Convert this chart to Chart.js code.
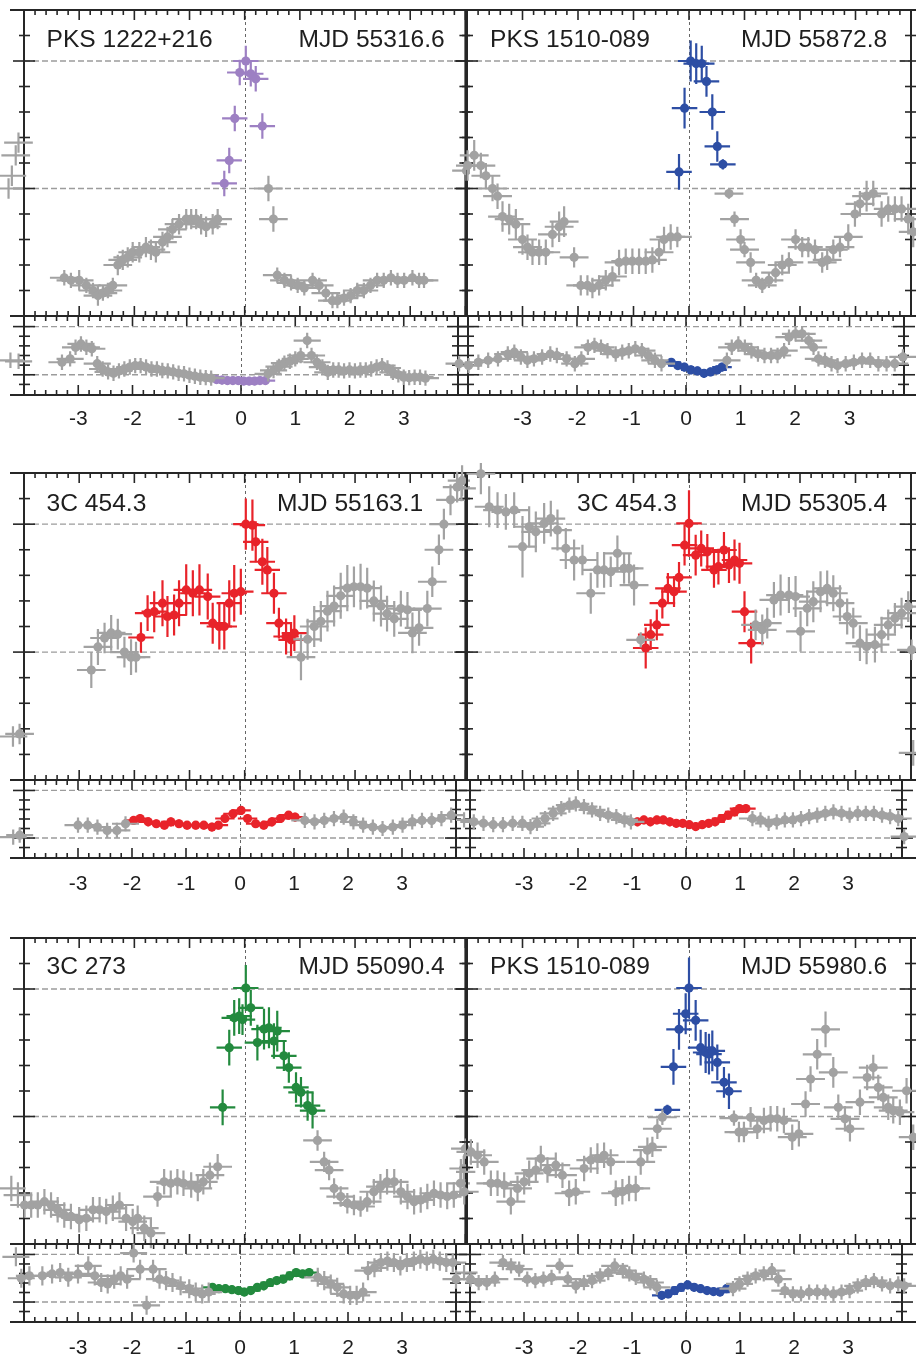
<!DOCTYPE html>
<html>
<head>
<meta charset="utf-8">
<script src="https://cdn.jsdelivr.net/npm/chart.js@4.4.1/dist/chart.umd.min.js"></script>
<style>
  html, body { margin: 0; padding: 0; background: #fff; }
  body { width: 916px; height: 1356px; position: relative; overflow: hidden; font-family: "Liberation Sans", Arial, sans-serif; }
  canvas { position: absolute; }
  .lbl { position: absolute; font-size: 24.6px; line-height: 24px; color: #1e1e1e; white-space: nowrap; }
</style>
</head>
<body>
<script>
// main panels: [x, y, yErr]; sub panels: [x, y]
// PKS 1222+216, MJD 55316.6
const p1Gray = [[-4.28,0.50,0.04],[-4.22,0.55,0.04],[-4.15,0.63,0.04],[-4.1,0.68,0.04],
  [-3.27,0.15,0.03],[-3.15,0.14,0.03],[-3.0,0.14,0.04],[-2.87,0.12,0.03],[-2.75,0.10,0.03],[-2.66,0.08,0.04],[-2.57,0.09,0.03],[-2.48,0.10,0.03],[-2.39,0.12,0.03],[-2.30,0.20,0.04],[-2.21,0.22,0.04],[-2.12,0.23,0.04],[-2.03,0.25,0.04],[-1.91,0.25,0.04],[-1.79,0.27,0.04],[-1.70,0.26,0.04],[-1.61,0.25,0.04],[-1.49,0.29,0.04],[-1.40,0.31,0.04],[-1.31,0.34,0.04],[-1.19,0.36,0.04],[-1.06,0.38,0.04],[-0.97,0.38,0.04],[-0.88,0.38,0.04],[-0.79,0.36,0.04],[-0.70,0.35,0.04],[-0.58,0.36,0.04],[-0.49,0.38,0.04],
  [0.43,0.50,0.05],[0.52,0.38,0.05],
  [0.59,0.16,0.03],[0.72,0.14,0.03],[0.84,0.13,0.03],[0.96,0.12,0.03],[1.08,0.11,0.03],[1.23,0.14,0.03],[1.35,0.12,0.03],[1.47,0.09,0.03],[1.59,0.06,0.03],[1.68,0.06,0.03],[1.80,0.07,0.03],[1.92,0.08,0.03],[2.04,0.10,0.03],[2.16,0.10,0.03],[2.28,0.12,0.03],[2.40,0.14,0.03],[2.52,0.14,0.03],[2.65,0.15,0.03],[2.77,0.14,0.03],[2.89,0.14,0.03],[3.04,0.15,0.03],[3.16,0.14,0.03],[3.25,0.14,0.03],
  [4.02,0.57,0.04]];
const p1Flare = [[0.02,1.0,0.06],[-0.09,0.955,0.05],[0.11,0.95,0.05],[0.20,0.93,0.05],[-0.18,0.775,0.05],[0.32,0.745,0.05],[-0.28,0.61,0.05],[-0.37,0.52,0.05]];
const p1SubGray = [[-4.25,0.30],[-4.1,0.28],[-3.3,0.26],[-3.15,0.33],[-3.05,0.57],[-2.95,0.64],[-2.85,0.57],[-2.75,0.54],[-2.65,0.23],[-2.55,0.12],[-2.45,0.06],[-2.35,0.03],[-2.25,0.08],[-2.15,0.12],[-2.05,0.16],[-1.95,0.19],[-1.85,0.19],[-1.75,0.16],[-1.65,0.12],[-1.55,0.12],[-1.45,0.09],[-1.35,0.08],[-1.25,0.06],[-1.15,0.03],[-1.05,0.02],[-0.95,-0.01],[-0.85,-0.03],[-0.75,-0.05],[-0.65,-0.06],[-0.55,-0.07],
  [0.5,0.02],[0.6,0.09],[0.7,0.17],[0.8,0.24],[0.9,0.28],[1.0,0.33],[1.1,0.40],[1.22,0.71],[1.3,0.40],[1.4,0.26],[1.5,0.16],[1.6,0.05],[1.7,0.10],[1.8,0.10],[1.9,0.08],[2.0,0.10],[2.1,0.08],[2.2,0.10],[2.3,0.10],[2.4,0.12],[2.5,0.16],[2.6,0.19],[2.7,0.14],[2.8,0.05],[2.9,0.0],[3.0,-0.05],[3.1,-0.06],[3.2,-0.05],[3.3,-0.05],[3.4,-0.07],[4.02,0.23]];
const p1SubFlare = [[-0.45,-0.10],[-0.35,-0.11],[-0.25,-0.12],[-0.15,-0.12],[-0.05,-0.12],[0.05,-0.13],[0.15,-0.13],[0.25,-0.13],[0.35,-0.12],[0.45,-0.12]];

// PKS 1510-089, MJD 55872.8
const p2Gray = [[-3.99,0.59,0.06],[-3.87,0.63,0.06],[-3.75,0.59,0.05],[-3.66,0.55,0.05],[-3.54,0.50,0.05],[-3.45,0.47,0.05],[-3.36,0.39,0.06],[-3.24,0.38,0.06],[-3.12,0.36,0.06],[-3.0,0.30,0.06],[-2.91,0.27,0.05],[-2.82,0.25,0.05],[-2.70,0.25,0.05],[-2.58,0.25,0.05],[-2.46,0.32,0.05],[-2.34,0.35,0.06],[-2.25,0.37,0.06],[-2.07,0.23,0.04],[-1.95,0.12,0.04],[-1.83,0.12,0.04],[-1.74,0.11,0.04],[-1.62,0.12,0.04],[-1.50,0.14,0.04],[-1.38,0.155,0.04],[-1.26,0.21,0.05],[-1.14,0.215,0.05],[-1.02,0.215,0.05],[-0.90,0.215,0.05],[-0.78,0.215,0.05],[-0.66,0.22,0.05],[-0.54,0.25,0.05],[-0.45,0.30,0.05],[-0.33,0.31,0.05],[-0.21,0.31,0.04],
  [0.72,0.48,0.02],[0.82,0.38,0.03],[0.93,0.30,0.04],[1.0,0.26,0.03],[1.11,0.21,0.04],[1.21,0.14,0.03],[1.32,0.12,0.03],[1.44,0.14,0.03],[1.56,0.17,0.04],[1.68,0.20,0.04],[1.80,0.21,0.04],[1.92,0.30,0.04],[2.04,0.27,0.04],[2.15,0.27,0.04],[2.27,0.26,0.04],[2.40,0.21,0.04],[2.49,0.22,0.04],[2.60,0.26,0.04],[2.72,0.27,0.04],[2.87,0.31,0.05],[2.99,0.40,0.05],[3.08,0.44,0.05],[3.20,0.47,0.06],[3.32,0.48,0.05],[3.47,0.40,0.05],[3.59,0.42,0.05],[3.71,0.42,0.05],[3.83,0.42,0.05],[3.95,0.38,0.06],[4.04,0.33,0.06]];
const p2Flare = [[0.03,1.0,0.08],[0.13,0.99,0.08],[0.23,0.99,0.07],[0.315,0.92,0.06],[-0.08,0.815,0.08],[0.42,0.80,0.07],[0.51,0.665,0.06],[0.61,0.595,0.02],[-0.18,0.565,0.07]];
const p2SubGray = [[-3.99,0.19],[-3.81,0.26],[-3.63,0.30],[-3.45,0.33],[-3.27,0.43],[-3.15,0.47],[-3.03,0.37],[-2.91,0.30],[-2.79,0.33],[-2.64,0.37],[-2.49,0.43],[-2.37,0.40],[-2.19,0.33],[-2.04,0.23],[-1.92,0.33],[-1.80,0.57],[-1.68,0.61],[-1.56,0.57],[-1.44,0.50],[-1.29,0.43],[-1.17,0.47],[-1.05,0.50],[-0.93,0.54],[-0.81,0.50],[-0.69,0.40],[-0.57,0.30],[-0.45,0.23],
  [0.75,0.30],[0.84,0.57],[0.96,0.64],[1.08,0.57],[1.20,0.50],[1.32,0.43],[1.44,0.40],[1.56,0.40],[1.68,0.40],[1.80,0.50],[1.89,0.78],[2.01,0.85],[2.13,0.85],[2.25,0.71],[2.34,0.57],[2.43,0.33],[2.55,0.30],[2.67,0.23],[2.78,0.19],[2.93,0.23],[3.08,0.26],[3.23,0.30],[3.38,0.30],[3.53,0.23],[3.68,0.23],[3.83,0.23],[3.98,0.37]];
const p2SubFlare = [[-0.27,0.26],[-0.15,0.19],[-0.03,0.16],[0.09,0.10],[0.21,0.08],[0.33,0.03],[0.45,0.06],[0.57,0.10],[0.66,0.16]];

// 3C 454.3, MJD 55163.1
const p3Gray = [[-4.2,0.17,0.04],[-4.08,0.18,0.04],[-2.78,0.43,0.07],[-2.66,0.52,0.07],[-2.54,0.555,0.06],[-2.42,0.575,0.07],[-2.30,0.57,0.06],[-2.18,0.50,0.06],[-2.06,0.48,0.07],[-1.97,0.48,0.06],
  [1.02,0.48,0.09],[1.14,0.55,0.08],[1.26,0.60,0.08],[1.38,0.62,0.08],[1.50,0.66,0.08],[1.62,0.68,0.08],[1.74,0.72,0.09],[1.86,0.75,0.09],[1.98,0.755,0.08],[2.10,0.755,0.09],[2.22,0.75,0.08],[2.34,0.70,0.08],[2.47,0.68,0.08],[2.58,0.65,0.07],[2.71,0.63,0.07],[2.83,0.67,0.07],[2.95,0.665,0.07],[3.04,0.575,0.08],[3.16,0.595,0.07],[3.31,0.67,0.07],[3.40,0.775,0.06],[3.52,0.90,0.06],[3.61,1.0,0.06],[3.73,1.095,0.06],[3.85,1.145,0.06],[3.94,1.17,0.06]];
const p3Flare = [[-1.88,0.557,0.06],[-1.76,0.652,0.07],[-1.64,0.658,0.08],[-1.49,0.691,0.09],[-1.40,0.639,0.08],[-1.28,0.645,0.08],[-1.19,0.691,0.09],[-1.06,0.743,0.1],[-0.94,0.730,0.09],[-0.82,0.743,0.1],[-0.67,0.717,0.09],[-0.58,0.613,0.08],[-0.46,0.60,0.09],[-0.37,0.60,0.09],[-0.28,0.691,0.09],[-0.19,0.730,0.11],[-0.07,0.736,0.09],[0.02,1.0,0.1],[0.14,0.996,0.1],[0.20,0.931,0.08],[0.32,0.853,0.09],[0.41,0.821,0.09],[0.53,0.730,0.08],[0.62,0.613,0.06],[0.75,0.561,0.07],[0.84,0.548,0.07],[0.90,0.574,0.07]];
const p3SubGray = [[-4.2,0.02],[-4.08,0.06],[-3.0,0.27],[-2.82,0.27],[-2.64,0.23],[-2.46,0.16],[-2.28,0.16],[-2.12,0.30],
  [1.20,0.37],[1.38,0.34],[1.56,0.37],[1.74,0.41],[1.92,0.44],[2.10,0.34],[2.28,0.27],[2.46,0.23],[2.64,0.20],[2.83,0.23],[3.01,0.27],[3.19,0.34],[3.37,0.37],[3.55,0.37],[3.73,0.41],[3.91,0.48]];
const p3SubFlare = [[-1.97,0.37],[-1.85,0.41],[-1.70,0.34],[-1.55,0.30],[-1.40,0.27],[-1.28,0.34],[-1.13,0.30],[-0.98,0.27],[-0.82,0.27],[-0.67,0.27],[-0.52,0.23],[-0.40,0.27],[-0.28,0.41],[-0.13,0.51],[0.02,0.58],[0.14,0.41],[0.29,0.30],[0.44,0.27],[0.59,0.34],[0.75,0.41],[0.90,0.48],[1.02,0.44]];

// 3C 454.3, MJD 55305.4
const p4Gray = [[-4.1,1.14,0.05],[-3.75,1.197,0.08],[-3.60,1.068,0.08],[-3.45,1.055,0.07],[-3.30,1.048,0.07],[-3.15,1.055,0.07],[-3.0,0.912,0.12],[-2.88,0.99,0.08],[-2.76,0.97,0.08],[-2.61,1.003,0.08],[-2.49,1.022,0.07],[-2.37,0.977,0.08],[-2.22,0.905,0.08],[-2.07,0.86,0.08],[-1.92,0.86,0.06],[-1.77,0.73,0.08],[-1.65,0.821,0.07],[-1.53,0.821,0.07],[-1.41,0.814,0.06],[-1.29,0.886,0.07],[-1.17,0.827,0.06],[-1.08,0.827,0.06],[-0.99,0.762,0.08],[-0.87,0.548,0.03],
  [1.20,0.606,0.06],[1.32,0.587,0.06],[1.41,0.613,0.06],[1.53,0.704,0.07],[1.65,0.723,0.08],[1.80,0.723,0.07],[1.92,0.717,0.08],[2.01,0.581,0.08],[2.13,0.671,0.07],[2.24,0.697,0.08],[2.37,0.736,0.08],[2.49,0.749,0.07],[2.60,0.73,0.07],[2.72,0.691,0.07],[2.85,0.639,0.07],[2.96,0.613,0.06],[3.08,0.535,0.07],[3.20,0.522,0.07],[3.35,0.529,0.07],[3.47,0.568,0.07],[3.59,0.606,0.06],[3.71,0.632,0.06],[3.83,0.652,0.06],[3.95,0.678,0.06],[4.01,0.509,0.04],[4.04,0.106,0.05]];
const p4Flare = [[-0.78,0.516,0.08],[-0.69,0.568,0.06],[-0.58,0.606,0.06],[-0.48,0.691,0.06],[-0.38,0.749,0.06],[-0.27,0.736,0.06],[-0.18,0.792,0.06],[-0.08,0.918,0.08],[0.0,1.003,0.13],[0.12,0.879,0.08],[0.22,0.905,0.07],[0.33,0.892,0.07],[0.45,0.821,0.07],[0.53,0.834,0.07],[0.63,0.899,0.07],[0.72,0.84,0.07],[0.82,0.86,0.08],[0.91,0.847,0.08],[1.0,0.658,0.08],[1.12,0.535,0.08]];
const p4SubGray = [[-4.11,0.38],[-3.93,0.34],[-3.75,0.31],[-3.57,0.28],[-3.39,0.28],[-3.21,0.31],[-3.03,0.31],[-2.88,0.24],[-2.76,0.31],[-2.61,0.41],[-2.46,0.52],[-2.31,0.62],[-2.16,0.69],[-2.04,0.72],[-1.89,0.66],[-1.74,0.59],[-1.59,0.52],[-1.44,0.48],[-1.29,0.45],[-1.14,0.38],[-1.02,0.34],
  [1.23,0.41],[1.38,0.38],[1.53,0.31],[1.68,0.34],[1.83,0.38],[1.98,0.38],[2.13,0.41],[2.28,0.45],[2.43,0.48],[2.58,0.52],[2.73,0.55],[2.88,0.52],[3.03,0.48],[3.18,0.52],[3.33,0.52],[3.48,0.52],[3.63,0.48],[3.78,0.45],[3.93,0.41],[4.04,0.03]];
const p4SubFlare = [[-0.90,0.34],[-0.78,0.38],[-0.66,0.34],[-0.54,0.38],[-0.42,0.38],[-0.30,0.34],[-0.18,0.31],[-0.06,0.31],[0.06,0.28],[0.18,0.24],[0.30,0.28],[0.42,0.31],[0.54,0.34],[0.66,0.41],[0.78,0.48],[0.90,0.55],[0.99,0.62],[1.11,0.62]];

// 3C 273, MJD 55090.4
const p5Gray = [[-4.23,0.218,0.05],[-4.11,0.192,0.05],[-3.99,0.153,0.05],[-3.87,0.153,0.05],[-3.75,0.153,0.05],[-3.63,0.166,0.05],[-3.51,0.153,0.05],[-3.39,0.134,0.05],[-3.27,0.114,0.05],[-3.15,0.108,0.05],[-3.0,0.095,0.05],[-2.87,0.101,0.05],[-2.75,0.134,0.05],[-2.63,0.134,0.05],[-2.51,0.127,0.05],[-2.39,0.14,0.05],[-2.27,0.153,0.05],[-2.15,0.101,0.05],[-2.03,0.088,0.05],[-1.94,0.101,0.05],[-1.82,0.062,0.05],[-1.70,0.043,0.06],[-1.58,0.186,0.04],[-1.46,0.244,0.05],[-1.34,0.238,0.05],[-1.22,0.244,0.05],[-1.11,0.238,0.05],[-0.97,0.231,0.05],[-0.85,0.218,0.05],[-0.75,0.244,0.05],[-0.63,0.27,0.05],[-0.49,0.303,0.05],
  [1.32,0.406,0.04],[1.44,0.322,0.04],[1.53,0.29,0.04],[1.62,0.218,0.04],[1.74,0.186,0.04],[1.86,0.16,0.04],[1.98,0.153,0.04],[2.10,0.147,0.04],[2.22,0.166,0.04],[2.34,0.205,0.05],[2.46,0.225,0.05],[2.58,0.244,0.05],[2.71,0.244,0.05],[2.83,0.205,0.05],[2.95,0.186,0.05],[3.07,0.166,0.05],[3.19,0.173,0.05],[3.31,0.186,0.05],[3.43,0.199,0.05],[3.55,0.192,0.05],[3.67,0.186,0.05],[3.79,0.192,0.05],[3.91,0.238,0.05],[3.97,0.296,0.05],[4.0,0.374,0.04]];
const p5Flare = [[-0.40,0.536,0.07],[-0.28,0.77,0.07],[-0.19,0.887,0.07],[-0.10,0.894,0.07],[-0.04,0.88,0.06],[0.02,1.004,0.09],[0.11,0.926,0.07],[0.23,0.79,0.07],[0.35,0.843,0.08],[0.44,0.848,0.08],[0.53,0.796,0.07],[0.59,0.835,0.08],[0.71,0.738,0.06],[0.80,0.692,0.06],[0.93,0.614,0.06],[1.02,0.595,0.06],[1.14,0.543,0.06],[1.23,0.523,0.07]];
const p5SubGray = [[-4.15,0.95],[-4.05,0.50],[-3.9,0.55],[-3.66,0.55],[-3.48,0.59],[-3.33,0.62],[-3.18,0.52],[-3.0,0.59],[-2.81,0.76],[-2.69,0.55],[-2.57,0.41],[-2.45,0.38],[-2.33,0.48],[-2.21,0.55],[-2.09,0.48],[-1.97,1.03],[-1.85,0.69],[-1.73,-0.07],[-1.61,0.69],[-1.49,0.48],[-1.37,0.45],[-1.25,0.41],[-1.10,0.34],[-0.94,0.28],[-0.82,0.21],[-0.70,0.17],[-0.58,0.21],
  [1.44,0.52],[1.56,0.45],[1.68,0.38],[1.80,0.31],[1.92,0.17],[2.04,0.14],[2.16,0.14],[2.28,0.21],[2.37,0.66],[2.49,0.72],[2.61,0.83],[2.73,0.86],[2.85,0.83],[2.97,0.76],[3.09,0.83],[3.22,0.86],[3.34,0.90],[3.46,0.86],[3.58,0.90],[3.70,0.86],[3.82,0.83],[3.94,0.83],[4.0,0.48]];
const p5SubFlare = [[-0.51,0.31],[-0.39,0.28],[-0.27,0.28],[-0.15,0.26],[-0.03,0.24],[0.08,0.21],[0.20,0.24],[0.32,0.31],[0.44,0.34],[0.56,0.41],[0.68,0.45],[0.80,0.48],[0.92,0.55],[1.04,0.62],[1.16,0.59],[1.28,0.62]];

// PKS 1510-089, MJD 55980.6
const p6Gray = [[-4.11,0.283,0.05],[-4.05,0.205,0.05],[-3.93,0.361,0.05],[-3.81,0.348,0.05],[-3.69,0.322,0.05],[-3.57,0.238,0.05],[-3.45,0.238,0.05],[-3.33,0.231,0.05],[-3.21,0.166,0.05],[-3.09,0.218,0.05],[-2.97,0.244,0.05],[-2.88,0.277,0.05],[-2.76,0.29,0.05],[-2.67,0.335,0.05],[-2.55,0.29,0.05],[-2.40,0.309,0.05],[-2.28,0.27,0.05],[-2.16,0.199,0.05],[-2.04,0.205,0.05],[-1.89,0.296,0.05],[-1.77,0.329,0.05],[-1.65,0.335,0.06],[-1.53,0.348,0.05],[-1.41,0.322,0.05],[-1.32,0.199,0.05],[-1.20,0.205,0.05],[-1.08,0.218,0.05],[-0.96,0.218,0.05],[-0.87,0.322,0.05],[-0.75,0.368,0.05],[-0.66,0.381,0.04],[-0.57,0.452,0.04],[-0.48,0.497,0.03],
  [0.81,0.494,0.03],[0.90,0.439,0.04],[0.99,0.439,0.04],[1.11,0.497,0.04],[1.23,0.452,0.04],[1.35,0.484,0.05],[1.47,0.491,0.05],[1.59,0.491,0.05],[1.71,0.484,0.05],[1.86,0.419,0.05],[1.98,0.432,0.05],[2.10,0.549,0.05],[2.19,0.647,0.05],[2.31,0.744,0.06],[2.46,0.842,0.07],[2.60,0.673,0.06],[2.69,0.536,0.05],[2.81,0.491,0.05],[2.90,0.452,0.05],[3.08,0.556,0.05],[3.21,0.653,0.05],[3.32,0.692,0.05],[3.41,0.614,0.05],[3.50,0.575,0.05],[3.59,0.536,0.05],[3.68,0.523,0.05],[3.80,0.517,0.05],[3.92,0.601,0.05],[4.04,0.419,0.05]];
const p6Flare = [[0.0,1.004,0.12],[-0.06,0.903,0.08],[-0.18,0.842,0.08],[0.12,0.877,0.08],[-0.28,0.695,0.07],[0.21,0.77,0.07],[0.30,0.751,0.08],[0.36,0.745,0.08],[0.42,0.757,0.08],[0.51,0.712,0.07],[0.63,0.634,0.06],[0.72,0.599,0.07],[-0.39,0.526,0.02]];
const p6SubGray = [[-4.11,0.62],[-3.99,0.48],[-3.84,0.41],[-3.69,0.41],[-3.54,0.48],[-3.39,0.83],[-3.24,0.76],[-3.09,0.69],[-2.94,0.48],[-2.79,0.45],[-2.64,0.48],[-2.49,0.52],[-2.34,0.76],[-2.19,0.48],[-2.04,0.34],[-1.89,0.41],[-1.74,0.45],[-1.59,0.55],[-1.44,0.62],[-1.32,0.76],[-1.17,0.66],[-1.05,0.59],[-0.93,0.52],[-0.78,0.48],[-0.66,0.41],[-0.54,0.31],
  [0.87,0.28],[0.99,0.38],[1.14,0.48],[1.29,0.55],[1.44,0.59],[1.59,0.66],[1.71,0.48],[1.83,0.24],[1.98,0.17],[2.13,0.17],[2.28,0.21],[2.43,0.21],[2.58,0.21],[2.73,0.17],[2.88,0.21],[3.03,0.24],[3.18,0.34],[3.33,0.41],[3.48,0.45],[3.63,0.38],[3.78,0.34],[3.93,0.38],[4.04,0.34]];
const p6SubFlare = [[-0.45,0.14],[-0.33,0.17],[-0.21,0.24],[-0.09,0.31],[0.03,0.36],[0.15,0.31],[0.27,0.28],[0.39,0.24],[0.51,0.22],[0.63,0.21],[0.75,0.28]];

const GRAY = '#a2a2a2';
const mainMinorY = [0.1, 0.2, 0.3, 0.4, 0.6, 0.7, 0.8, 0.9, 1.1];
const mainMajorY = [0.5, 1.0];
const subMinorY = [-0.2, 0.2, 0.4, 0.6, 0.8];
const subMajorY = [0, 1];

const rows = [
  { top: 10, sep: 316, bottom: 395, labelPad: 12, base: 48 },
  { top: 473, sep: 780, bottom: 858, labelPad: 14, base: 512 },
  { top: 938, sep: 1244, bottom: 1322, labelPad: 14, base: 975 }
];
const cols = [
  { left: 0, width: 470, plotL: 24, plotR: 467, lineL: 10, lineR: 467 },
  { left: 456, width: 460, plotL: 467, plotR: 911, lineL: 467, lineR: 916 }
];

const panels = [
  { row: 0, col: 0, color: '#9d80c3', gray: p1Gray, flare: p1Flare, subGray: p1SubGray, subFlare: p1SubFlare, titles: [['PKS 1222+216', 46.5], ['MJD 55316.6', 298.5]] },
  { row: 0, col: 1, color: '#2d4ea4', gray: p2Gray, flare: p2Flare, subGray: p2SubGray, subFlare: p2SubFlare, titles: [['PKS 1510-089', 490], ['MJD 55872.8', 741]] },
  { row: 1, col: 0, color: '#e8232a', gray: p3Gray, flare: p3Flare, subGray: p3SubGray, subFlare: p3SubFlare, titles: [['3C 454.3', 46.5], ['MJD 55163.1', 277]] },
  { row: 1, col: 1, color: '#e8232a', gray: p4Gray, flare: p4Flare, subGray: p4SubGray, subFlare: p4SubFlare, titles: [['3C 454.3', 577], ['MJD 55305.4', 741]] },
  { row: 2, col: 0, color: '#238a3e', gray: p5Gray, flare: p5Flare, subGray: p5SubGray, subFlare: p5SubFlare, subGrayErr: 0.2, titles: [['3C 273', 46.5], ['MJD 55090.4', 298.5]] },
  { row: 2, col: 1, color: '#2d4ea4', gray: p6Gray, flare: p6Flare, subGray: p6SubGray, subFlare: p6SubFlare, titles: [['PKS 1510-089', 490], ['MJD 55980.6', 741]] }
];

Chart.defaults.font.family = "'Liberation Sans', Arial, sans-serif";

const frame = {
  id: 'frame',
  beforeDatasetsDraw(chart, args, o) {
    const { ctx, chartArea: a, scales: { x, y } } = chart;
    const seg = (x1, y1, x2, y2) => { ctx.beginPath(); ctx.moveTo(x1, y1); ctx.lineTo(x2, y2); ctx.stroke(); };
    ctx.save();
    ctx.strokeStyle = '#9c9c9c'; ctx.lineWidth = 1.3; ctx.setLineDash([6, 3]);
    o.refs.forEach(v => { const py = y.getPixelForValue(v); seg(a.left, py, a.right, py); });
    ctx.strokeStyle = '#666'; ctx.lineWidth = 1; ctx.setLineDash([3, 3]);
    const x0 = Math.round(x.getPixelForValue(0)) + 0.5;
    seg(x0, a.top, x0, a.bottom);
    ctx.setLineDash([]);
    ctx.strokeStyle = '#262626'; ctx.lineWidth = 1.6;
    for (let i = -20; i <= 20; i++) {
      const px = x.getPixelForValue(i / 5), len = i % 5 === 0 ? 10 : 5;
      seg(px, a.top, px, a.top + len);
      seg(px, a.bottom, px, a.bottom - len);
    }
    o.minorY.forEach(v => {
      const py = y.getPixelForValue(v);
      seg(a.left - 5, py, a.left + 6, py); seg(a.right - 6, py, a.right + 5, py);
    });
    o.majorY.forEach(v => {
      const py = y.getPixelForValue(v);
      seg(a.left - 11, py, a.left + 11, py); seg(a.right - 11, py, a.right + 11, py);
    });
    ctx.lineWidth = 2;
    seg(o.lineL, a.top, o.lineR, a.top);
    seg(o.lineL, a.bottom, o.lineR, a.bottom);
    seg(a.left, a.top, a.left, a.bottom);
    seg(a.right, a.top, a.right, a.bottom);
    ctx.restore();
  }
};

const errorBars = {
  id: 'errorBars',
  beforeDatasetDraw(chart, args) {
    const ds = chart.data.datasets[args.index];
    const { ctx, scales: { x, y } } = chart;
    ctx.save();
    ctx.strokeStyle = ds.borderColor;
    ctx.lineWidth = 2.2;
    ds.data.forEach((p, i) => {
      const px = x.getPixelForValue(p.x), py = y.getPixelForValue(p.y);
      ctx.beginPath();
      ctx.moveTo(x.getPixelForValue(p.x - ds.xErr), py);
      ctx.lineTo(x.getPixelForValue(p.x + ds.xErr), py);
      ctx.moveTo(px, y.getPixelForValue(p.y - ds.yErr[i]));
      ctx.lineTo(px, y.getPixelForValue(p.y + ds.yErr[i]));
      ctx.stroke();
    });
    ctx.restore();
  }
};

function series(points, color, xErr, yErr) {
  return {
    data: points.map(p => ({ x: p[0], y: p[1] })),
    yErr: points.map(p => (p.length > 2 ? p[2] : yErr)),
    xErr: xErr,
    backgroundColor: color,
    borderColor: color,
    pointRadius: 4.6,
    pointHoverRadius: 4.6,
    pointBorderWidth: 0,
    clip: false
  };
}

function makeCanvas(left, top, width, height) {
  const c = document.createElement('canvas');
  c.width = width; c.height = height;
  c.style.left = left + 'px'; c.style.top = top + 'px';
  c.style.width = width + 'px'; c.style.height = height + 'px';
  document.body.appendChild(c);
  return c;
}

function addTitle(text, left, baseline) {
  const d = document.createElement('div');
  d.className = 'lbl';
  d.textContent = text;
  d.style.left = left + 'px';
  d.style.top = (baseline - 20.7) + 'px';
  document.body.appendChild(d);
}

panels.forEach(p => {
  const r = rows[p.row], c = cols[p.col];
  const padL = c.plotL - c.left, padR = c.left + c.width - c.plotR;

  // main panel
  const mTop = r.top - 10, mH = r.sep - r.top + 24;
  new Chart(makeCanvas(c.left, mTop, c.width, mH), {
    type: 'scatter',
    data: { datasets: [series(p.gray, GRAY, 0.26), series(p.flare, p.color, 0.23)] },
    options: {
      responsive: false, animation: false, devicePixelRatio: 1, events: [],
      layout: { padding: { left: padL, right: padR, top: 10, bottom: mH - 10 - (r.sep - r.top) } },
      scales: {
        x: { type: 'linear', min: -4, max: 4, display: false },
        y: { type: 'linear', min: 0, max: 1.2, display: false }
      },
      plugins: {
        legend: { display: false }, tooltip: { enabled: false },
        frame: { refs: mainMajorY, minorY: mainMinorY, majorY: mainMajorY, lineL: c.lineL - c.left, lineR: c.lineR - c.left }
      }
    },
    plugins: [frame, errorBars]
  });

  // lower panel with the time axis labels
  const sTop = r.sep - 10, sH = r.bottom - sTop + 40;
  new Chart(makeCanvas(c.left, sTop, c.width, sH), {
    type: 'scatter',
    data: { datasets: [series(p.subGray, GRAY, 0.25, p.subGrayErr || 0.16), series(p.subFlare, p.color, 0.18, 0.09)] },
    options: {
      responsive: false, animation: false, devicePixelRatio: 1, events: [],
      layout: { padding: { left: padL, right: padR, top: 10, bottom: 0 } },
      scales: {
        x: {
          type: 'linear', min: -4, max: 4,
          grid: { display: false, drawTicks: false }, border: { display: false },
          ticks: {
            stepSize: 1, autoSkip: false, maxRotation: 0, padding: r.labelPad,
            color: '#1e1e1e', font: { size: 21 },
            callback: v => (Math.abs(v) > 3.5 ? '' : String(v))
          },
          afterFit: s => { s.height = 40; }
        },
        y: { type: 'linear', min: -0.42, max: 1.22, display: false }
      },
      plugins: {
        legend: { display: false }, tooltip: { enabled: false },
        frame: { refs: subMajorY, minorY: subMinorY, majorY: subMajorY, lineL: c.lineL - c.left, lineR: c.lineR - c.left }
      }
    },
    plugins: [frame, errorBars]
  });

  p.titles.forEach(t => addTitle(t[0], t[1], r.base));
});
</script>
</body>
</html>
